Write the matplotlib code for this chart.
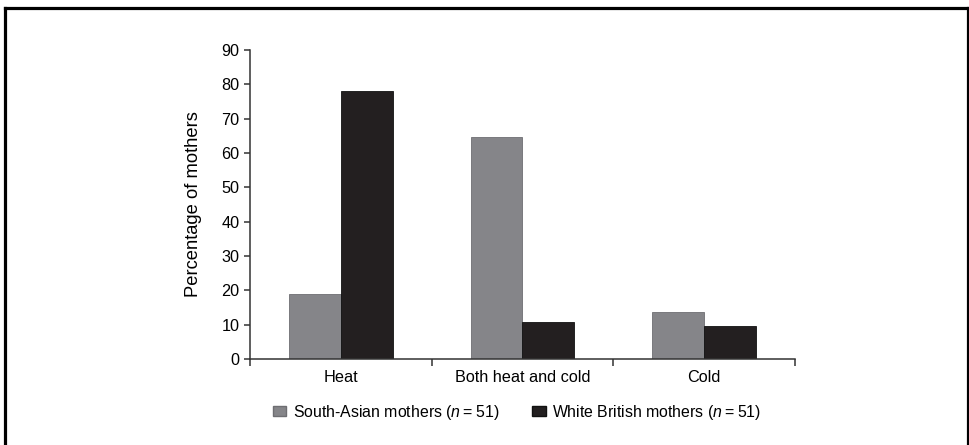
import numpy as np
import matplotlib
matplotlib.use("Agg")
import matplotlib.pyplot as plt
from matplotlib.patches import Patch
from matplotlib.lines import Line2D

categories = ["Heat", "Both heat and cold", "Cold"]
south_asian = [18.8, 64.8, 13.7]
white_british = [78.0, 10.8, 9.7]
series_labels = ["South-Asian mothers ($n$\u2009=\u200951)", "White British mothers ($n$\u2009=\u200951)"]
y_ticks = [0, 10, 20, 30, 40, 50, 60, 70, 80, 90]

plt.rcParams['font.family'] = ['Liberation Sans', 'DejaVu Sans']
plt.rcParams['mathtext.fontset'] = 'custom'
plt.rcParams['mathtext.rm'] = 'Liberation Sans'
plt.rcParams['mathtext.it'] = 'Liberation Sans:italic'

couleurGris = '#858589'
couleurNoir = '#231f20'
couleurAxe = '#333333'
taille = 11.7

fig = plt.figure(figsize=(9.7, 4.45), dpi=100)
ax = fig.add_axes([250/970, 1-359/445, 545/970, 309/445])

x = np.arange(len(categories))
largeur = 0.286
ax.bar(x - largeur/2, south_asian, largeur, color=couleurGris, edgecolor='#6e6e72', linewidth=0.6)
ax.bar(x + largeur/2, white_british, largeur, color=couleurNoir, edgecolor='#111111', linewidth=0.6)

ax.set_xlim(-0.5, len(categories) - 0.5)
ax.set_ylim(0, 90)
ax.set_yticks(y_ticks)
ax.tick_params(axis='y', labelsize=taille, length=4.5, width=1.1, color=couleurAxe, pad=3)

# ticks aux bords des categories, labels au centre
ax.set_xticks(np.arange(len(categories) + 1) - 0.5)
ax.set_xticklabels([])
ax.set_xticks(x, minor=True)
ax.set_xticklabels(categories, minor=True)
ax.tick_params(axis='x', which='major', length=5, width=1.1, color=couleurAxe)
ax.tick_params(axis='x', which='minor', length=0, labelsize=taille, pad=8)

for s in ['top', 'right']:
    ax.spines[s].set_visible(False)
for s in ['left', 'bottom']:
    ax.spines[s].set_linewidth(1.1)
    ax.spines[s].set_color(couleurAxe)

ax.set_ylabel('Percentage of mothers', fontsize=13.2, labelpad=14)

poignees = [Patch(facecolor=couleurGris, edgecolor='#6e6e72'),
            Patch(facecolor=couleurNoir, edgecolor='#111111')]
fig.legend(poignees, series_labels, loc='center', bbox_to_anchor=(517/970, 1-412/445),
           ncol=2, frameon=False, fontsize=11.4, handlelength=0.85, handleheight=0.6,
           handletextpad=0.4, columnspacing=2.1)

# cadre noir autour de la figure
lw = 2.3
fig.add_artist(Line2D([5.5/970, 5.5/970], [0, 1-8/445], color='black', linewidth=lw))
fig.add_artist(Line2D([5.5/970, 968.5/970], [1-8/445, 1-8/445], color='black', linewidth=lw))
fig.add_artist(Line2D([968.5/970, 968.5/970], [0, 1-8/445], color='black', linewidth=lw))

fig.savefig('out.png', dpi=100)
